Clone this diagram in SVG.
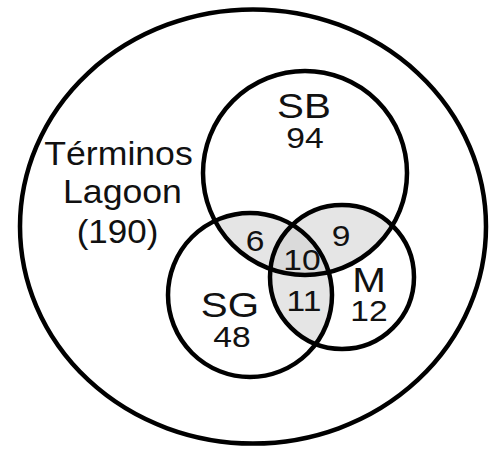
<svg xmlns="http://www.w3.org/2000/svg" width="491" height="449" viewBox="0 0 491 449">
  <style>
    .ring { fill: none; stroke: #000; stroke-width: 4.5; }
    .shade { fill: #e5e5e5; stroke: none; }
    .core { fill: #dadada; stroke: none; }
    text { font-family: "Liberation Sans", Arial, Helvetica, sans-serif; fill: #111; text-anchor: middle; }
    .big { font-size: 33px; }
    .name { font-size: 36px; }
    .num { font-size: 30px; }
  </style>
  <defs>
    <clipPath id="clipSB"><circle cx="305" cy="173" r="102"/></clipPath>
    <clipPath id="clipSG"><circle cx="250" cy="295" r="82"/></clipPath>
    <clipPath id="clipM"><circle cx="342" cy="277" r="72"/></clipPath>
  </defs>

  <!-- shaded overlaps -->
  <g id="overlaps">
    <g clip-path="url(#clipSB)">
      <circle class="shade" cx="250" cy="295" r="82"/>
      <circle class="shade" cx="342" cy="277" r="72"/>
    </g>
    <g clip-path="url(#clipSG)">
      <circle class="shade" cx="342" cy="277" r="72"/>
      <g clip-path="url(#clipSB)">
        <circle class="core" cx="342" cy="277" r="72"/>
      </g>
    </g>
  </g>

  <g id="lagoon">
    <ellipse class="ring" cx="253" cy="226.5" rx="233" ry="217"/>
    <text class="big" transform="translate(118.5 165) scale(1.08 1)">Términos</text>
    <text class="big" transform="translate(122.5 203) scale(1.08 1)">Lagoon</text>
    <text class="big" transform="translate(117.5 243) scale(1.06 1)">(190)</text>
  </g>

  <g id="SB">
    <circle class="ring" cx="305" cy="173" r="102"/>
    <text class="name" transform="translate(304 118) scale(1.12 1)">SB</text>
    <text class="num" transform="translate(305 148) scale(1.12 1)">94</text>
  </g>

  <g id="SG">
    <circle class="ring" cx="250" cy="295" r="82"/>
    <text class="name" transform="translate(230 317) scale(1.12 1)">SG</text>
    <text class="num" transform="translate(232 347) scale(1.12 1)">48</text>
  </g>

  <g id="M">
    <circle class="ring" cx="342" cy="277" r="72"/>
    <text class="name" transform="translate(369 292) scale(1.12 1)">M</text>
    <text class="num" transform="translate(369 321) scale(1.12 1)">12</text>
  </g>

  <g id="shared-counts">
    <text class="num" transform="translate(255 251) scale(1.12 1)">6</text>
    <text class="num" transform="translate(341 246) scale(1.12 1)">9</text>
    <text class="num" transform="translate(302 270) scale(1.12 1)">10</text>
    <text class="num" transform="translate(304 311) scale(1.12 1)">11</text>
  </g>
</svg>
